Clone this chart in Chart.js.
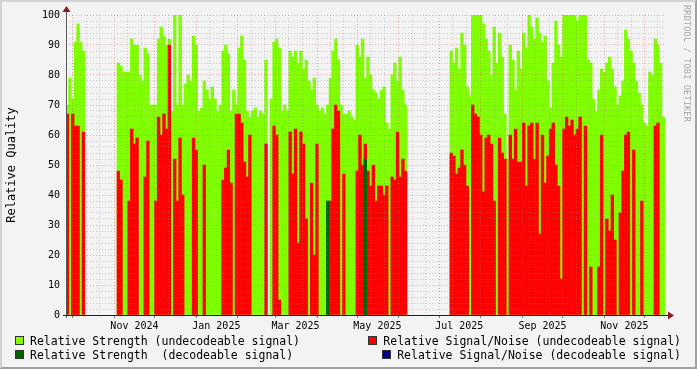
<!DOCTYPE html>
<html>
<head>
<meta charset="utf-8">
<script src="https://cdn.jsdelivr.net/npm/chart.js@4/dist/chart.umd.min.js"></script>
<style>
  html, body { margin: 0; padding: 0; background: #f3f3f3; }
  #wrap { position: relative; width: 697px; height: 369px; background: #f3f3f3; overflow: hidden; }
  #wrap canvas { position: absolute; left: 0; top: 0; }
  #frame { position: absolute; left: 0; top: 0; width: 693px; height: 365px;
    border-top: 2px solid #d2d2d2; border-left: 2px solid #d2d2d2;
    border-right: 2px solid #a0a0a0; border-bottom: 2px solid #a0a0a0; pointer-events: none; }
  .legend { position: absolute; font-family: "DejaVu Sans Mono", monospace; font-size: 11.5px;
    color: #000; white-space: pre; line-height: 14px; }
  .sw { display: inline-block; width: 7px; height: 7px; border: 1px solid #333;
    vertical-align: 0px; margin-right: 6px; }
  #credit { position: absolute; left: 682px; top: 5px; writing-mode: vertical-rl;
    font-family: "DejaVu Sans Mono", monospace; font-size: 8.5px; color: #a8a8a8; letter-spacing: 0.2px; }
</style>
</head>
<body>
<div id="wrap">
  <canvas id="qualityChart" width="697" height="369"></canvas>
  <div id="credit">RRDTOOL / TOBI OETIKER</div>
  <div class="legend" style="left:15px; top:334px"><span class="sw" style="background:#80ff00"></span>Relative Strength (undecodeable signal)</div>
  <div class="legend" style="right:16px; top:334px"><span class="sw" style="background:#ff0000"></span>Relative Signal/Noise (undecodeable signal)</div>
  <div class="legend" style="left:15px; top:348px"><span class="sw" style="background:#006400"></span>Relative Strength  (decodeable signal)</div>
  <div class="legend" style="right:16px; top:348px"><span class="sw" style="background:#000090"></span>Relative Signal/Noise (decodeable signal)</div>
  <div id="frame"></div>
</div>
<script>
// data: one value per 2-day bucket, starting 26 Sep 2024
const startDate = Date.UTC(2024, 8, 26);
const bucketDays = 2;
const totalDays = 447;

const strengthUndecodeable = [
  70, 79, 72, 91, 97, 91, 88,
  null, null, null, null, null, null, null, null, null, null, null, null,
  84, 83, 81, 81, 81, 92, 90, 90, 80, 78,
  89, 87, 70, 70, 70, 92, 96, 93, 90, 92,
  68, 100, 70, 100, 70, 77, 80, 78, 93, 90,
  68, 69, 78, 75, 72, 76, 72, 68, 70, 88,
  90, 87, 68, 75, 70, 89, 93, 85, 68, 66,
  68, 69, 66, 68, 67, 85, null, 72, 91, 92,
  89, 68, 70, 68, 88, 86, 88, 84, 88, 82,
  85, 78, 75, 79, 70, 68, 69, 67, 70, 79,
  88, 92, 85, 70, 67, 67, 68, 66, 65, 90,
  86, 92, 79, 86, 80, 75, 74, 72, 75, 76,
  64, 62, 80, 84, 78, 86, 75, 70,
  null, null, null, null, null, null, null, null, null, null, null, null, null, null, null, null,
  88, 84, 89, 82, 94, 90, 76, 73, 100, 100,
  100, 100, 97, 92, 88, 80, 96, 84, 94, 86,
  67, 52, 90, 85, 75, 88, 82, 94, 89, 100,
  96, 92, 99, 94, 91, 93, 78, 69, 84, 98,
  90, 86, 100, 100, 100, 100, 100, 98, 100, 100,
  100, 85, 84, 72, 68, 75, 82, 81, 84, 86,
  82, 76, 70, 73, 78, 95, 92, 88, 84, 78,
  74, 70, 64, 63, 81, 80, 92, 90, 84, 66
];

const snrUndecodeable = [
  67, null, 67, 63, 63, null, 61,
  null, null, null, null, null, null, null, null, null, null, null, null,
  48, 45, null, null, 38, 62, 57, 59, null, null,
  46, 58, null, null, 38, 66, 60, 67, 62, 90,
  null, 52, 38, 59, 40, null, null, null, 59, 55,
  null, null, 50, null, null, null, null, null, null, 45,
  49, 55, 44, null, 67, 67, 64, 51, 46, 60,
  null, null, null, null, null, 57, null, null, 63, 60,
  5, null, null, null, 61, 47, 62, 24, 61, 57,
  32, null, 44, 20, 57, null, null, null, null, 38,
  62, 70, 68, null, 47, null, null, null, null, 48,
  60, 50, 57, 48, 43, 50, 38, 43, 43, 40,
  43, null, 46, 45, 61, 46, 52, 48,
  null, null, null, null, null, null, null, null, null, null, null, null, null, null, null, null,
  54, 53, 47, 49, 55, 50, 43, null, 70, 67,
  66, 60, 41, 59, 60, 57, 38, null, 59, 54,
  52, null, 60, 52, 62, 51, 51, 64, 43, 63,
  64, 52, 64, 27, 60, 44, 53, 62, 64, 50,
  43, 12, 62, 66, 63, 65, 60, 62, 66, null,
  63, null, 16, null, null, 16, 60, null, 32, 28,
  40, 25, null, 34, 48, 60, 61, null, 55, null,
  null, 38, null, null, null, null, 63, 64, null, null
];

// sparse series: [bucket, value]
const strengthDecodeable = [[97, 38], [111, 52]];
const snrDecodeable = [];

// x axis labels, [year, month] of each
const xLabels = ["Nov 2024", "Jan 2025", "Mar 2025", "May 2025", "Jul 2025", "Sep 2025", "Nov 2025"];
const xLabelMonths = [[2024, 10], [2025, 0], [2025, 2], [2025, 4], [2025, 6], [2025, 8], [2025, 10]];

function dayOf(y, m, d) {
  return (Date.UTC(y, m, d) - startDate) / 864e5;
}

function toPoints(values) {
  return values.map((v, i) => ({ x: i * bucketDays + bucketDays / 2, y: v }));
}

function sparsePoints(pairs) {
  const pts = strengthUndecodeable.map((v, i) => ({ x: i * bucketDays + bucketDays / 2, y: null }));
  pairs.forEach(([i, v]) => { pts[i].y = v; });
  return pts;
}

// grid ticks: month starts (major), 11th and 21st (minor), labels mid-month
const xTicks = [];
for (let y = 2024, m = 8; y < 2026; ) {
  [1, 11, 21].forEach((d) => {
    const day = dayOf(y, m, d);
    if (day >= 0 && day <= totalDays) xTicks.push({ value: day, kind: d === 1 ? "major" : "minor", text: "" });
  });
  m++;
  if (m > 11) { m = 0; y++; }
}
xLabels.forEach((text, i) => {
  const [y, m] = xLabelMonths[i];
  xTicks.push({ value: dayOf(y, m, 1) + 15, kind: "label", text: text });
});
xTicks.sort((a, b) => a.value - b.value);
const tickKind = {};
xTicks.forEach((t) => { tickKind[t.value] = t; });

const axisArrows = {
  id: "axisArrows",
  afterDraw(chart) {
    const ctx = chart.ctx;
    const { left, right, top, bottom } = chart.chartArea;
    ctx.save();
    // y axis
    ctx.strokeStyle = "#5a5a5a";
    ctx.lineWidth = 1;
    ctx.beginPath();
    ctx.moveTo(left + 0.5, bottom + 3);
    ctx.lineTo(left + 0.5, top - 4);
    ctx.stroke();
    // x axis
    ctx.strokeStyle = "#1c1c40";
    ctx.beginPath();
    ctx.moveTo(left - 3, bottom + 0.5);
    ctx.lineTo(right + 3, bottom + 0.5);
    ctx.stroke();
    // arrow heads
    ctx.fillStyle = "#8b1a1a";
    ctx.beginPath();
    ctx.moveTo(left + 0.5, top - 9);
    ctx.lineTo(left - 3.5, top - 3);
    ctx.lineTo(left + 4.5, top - 3);
    ctx.closePath();
    ctx.fill();
    ctx.beginPath();
    ctx.moveTo(right + 8, bottom + 0.5);
    ctx.lineTo(right + 2, bottom - 3.5);
    ctx.lineTo(right + 2, bottom + 4.5);
    ctx.closePath();
    ctx.fill();
    ctx.restore();
  }
};

document.addEventListener("DOMContentLoaded", function () {
  const ctx = document.getElementById("qualityChart").getContext("2d");
  const barDefaults = { grouped: false, barPercentage: 1, categoryPercentage: 1, borderWidth: 0 };

  new Chart(ctx, {
    type: "bar",
    data: {
      datasets: [
        Object.assign({ label: "Relative Strength  (decodeable signal)", data: sparsePoints(strengthDecodeable),
          backgroundColor: "#006400", order: 0 }, barDefaults),
        Object.assign({ label: "Relative Signal/Noise (decodeable signal)", data: sparsePoints(snrDecodeable),
          backgroundColor: "#000090", order: 1 }, barDefaults),
        Object.assign({ label: "Relative Signal/Noise (undecodeable signal)", data: toPoints(snrUndecodeable),
          backgroundColor: "#ff0000", order: 2 }, barDefaults),
        Object.assign({ label: "Relative Strength (undecodeable signal)", data: toPoints(strengthUndecodeable),
          backgroundColor: "#80ff00", order: 3 }, barDefaults),
      ],
    },
    options: {
      responsive: false,
      animation: false,
      devicePixelRatio: 1,
      layout: { padding: { left: 0, top: 15, right: 31, bottom: 0 } },
      plugins: {
        legend: { display: false },
        tooltip: { enabled: false },
      },
      scales: {
        x: {
          type: "linear",
          offset: false,
          min: 0,
          max: totalDays,
          afterBuildTicks: (scale) => {
            scale.ticks = xTicks.map((t) => ({ value: t.value }));
          },
          afterFit: (scale) => { scale.height = 54; },
          border: { display: false, dash: [1, 2] },
          grid: {
            z: 1,
            offset: false,
            tickLength: 3,
            color: (c) => {
              const t = c.tick && tickKind[c.tick.value];
              if (!t || t.kind === "label") return "rgba(0,0,0,0)";
              return t.kind === "major" ? "rgba(222,80,80,0.45)" : "rgba(140,140,140,0.4)";
            },
            tickColor: (c) => {
              const t = c.tick && tickKind[c.tick.value];
              return t && t.kind === "major" ? "#777" : "rgba(0,0,0,0)";
            },
          },
          ticks: {
            autoSkip: false,
            maxRotation: 0,
            padding: 2,
            color: "#000",
            font: { family: "DejaVu Sans Mono", size: 10 },
            callback: (v) => (tickKind[v] ? tickKind[v].text : ""),
          },
        },
        y: {
          min: 0,
          max: 100,
          afterFit: (scale) => { scale.width = 66; },
          border: { display: false, dash: [1, 2] },
          grid: {
            z: 1,
            drawTicks: false,
            color: (c) => (c.tick.value % 10 === 0 ? "rgba(222,80,80,0.45)" : "rgba(140,140,140,0.4)"),
          },
          ticks: {
            stepSize: 2,
            autoSkip: false,
            padding: 6,
            color: "#000",
            font: { family: "DejaVu Sans Mono", size: 10 },
            callback: (v) => (v % 10 === 0 ? String(v) : ""),
          },
          title: {
            display: true,
            text: "Relative Quality",
            color: "#000",
            padding: { top: 5, bottom: 0 },
            font: { family: "DejaVu Sans Mono", size: 12 },
          },
        },
      },
    },
    plugins: [axisArrows],
  });
});
</script>
</body>
</html>
